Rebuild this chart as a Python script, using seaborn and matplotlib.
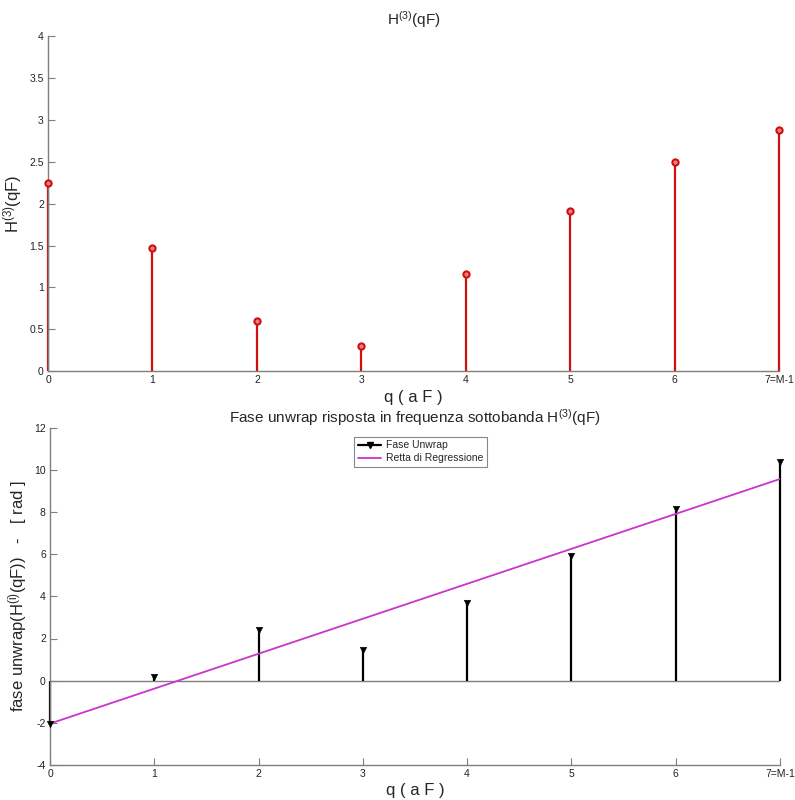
import numpy as np
import pandas as pd
import matplotlib
matplotlib.use("Agg")
import matplotlib.pyplot as plt
from matplotlib.lines import Line2D
import seaborn as sns

# data
q = [0, 1, 2, 3, 4, 5, 6, 7]
xtick_labels = ["0", "1", "2", "3", "4", "5", "6", "7=M-1"]
modulo = [2.24, 1.47, 0.60, 0.30, 1.16, 1.91, 2.50, 2.88]
fase = [-2.05, 0.18, 2.42, 1.47, 3.69, 5.93, 8.13, 10.37]

sns.set_style("white")
plt.rcParams['font.family'] = ['Liberation Sans', 'DejaVu Sans']
plt.rcParams['mathtext.fontset'] = 'custom'
plt.rcParams['mathtext.rm'] = 'Liberation Sans'
plt.rcParams['mathtext.it'] = 'Liberation Sans'
plt.rcParams['axes.unicode_minus'] = False

df = pd.DataFrame({"q": q, "mod": modulo, "fase": fase})

fig = plt.figure(figsize=(7.95, 8.0), dpi=100)
ax1 = fig.add_axes([0.0604, 0.536, 0.9196, 0.419])
ax2 = fig.add_axes([0.0629, 0.044, 0.9181, 0.421])

spine_col = "#7f7f7f"
red = "#d01010"

def style(ax):
    for s in ["top", "right"]:
        ax.spines[s].set_visible(False)
    for s in ["left", "bottom"]:
        ax.spines[s].set_color(spine_col)
        ax.spines[s].set_linewidth(1.0)
    ax.tick_params(direction="in", length=5, width=0.8, color=spine_col,
                   labelsize=7.5, labelcolor="#222222", pad=3,
                   left=True, bottom=True)

# top plot
ax1.vlines(df["q"], 0, df["mod"], color=red, linewidth=1.6, zorder=2, clip_on=False)
sns.scatterplot(data=df, x="q", y="mod", ax=ax1, marker="o", s=20,
                facecolor="#f08080", edgecolor=red, linewidth=1.5, zorder=3,
                clip_on=False)
ax1.set_xlim(0, 7)
ax1.set_ylim(0, 4)
ax1.set_xticks(q)
ax1.set_xticklabels(xtick_labels)
ax1.set_yticks(np.arange(0, 4.01, 0.5))
ax1.set_yticklabels(["0", "0.5", "1", "1.5", "2", "2.5", "3", "3.5", "4"])
style(ax1)
ax1.set_title(r"H$^{(3)}$(qF)", fontsize=11, pad=8)
ax1.set_xlabel("q ( a F )", fontsize=12, labelpad=3)
ax1.set_ylabel(r"H$^{(3)}$(qF)", fontsize=12, labelpad=4)

# bottom plot
ax2.axhline(0, xmin=0, xmax=1, color=spine_col, linewidth=1.0, zorder=1)
ax2.vlines(df["q"], 0, df["fase"], color="black", linewidth=1.6, zorder=2, clip_on=False)
sns.scatterplot(data=df, x="q", y="fase", ax=ax2, marker="v", s=22,
                color="black", edgecolor="black", zorder=4, clip_on=False)
sns.regplot(data=df, x="q", y="fase", ax=ax2, scatter=False, ci=None,
            truncate=True, line_kws=dict(color="#cc33cc", linewidth=1.3, zorder=3))
ax2.set_xlim(0, 7)
ax2.set_ylim(-4, 12)
ax2.set_xticks(q)
ax2.set_xticklabels(xtick_labels)
ax2.set_yticks(np.arange(-4, 12.1, 2))
style(ax2)
ax2.set_title(r"Fase unwrap risposta in frequenza sottobanda H$^{(3)}$(qF)",
              fontsize=11, pad=4)
ax2.set_xlabel("q ( a F )", fontsize=12, labelpad=3)
ax2.set_ylabel(r"fase unwrap(H$^{(i)}$(qF))   -   [ rad ]", fontsize=12, labelpad=4)

handles = [Line2D([0], [0], color="black", linewidth=1.6, marker="v", markersize=4.5),
           Line2D([0], [0], color="#cc33cc", linewidth=1.3)]
leg = ax2.legend(handles, ["Fase Unwrap", "Retta di Regressione"],
                 loc="upper left", bbox_to_anchor=(0.41, 0.99), fontsize=7.5,
                 frameon=True, fancybox=False, framealpha=1, edgecolor="#888888",
                 handlelength=2.2, borderpad=0.35, labelspacing=0.3, handletextpad=0.5)
leg.get_frame().set_linewidth(0.8)

fig.savefig("out.png", dpi=100)
